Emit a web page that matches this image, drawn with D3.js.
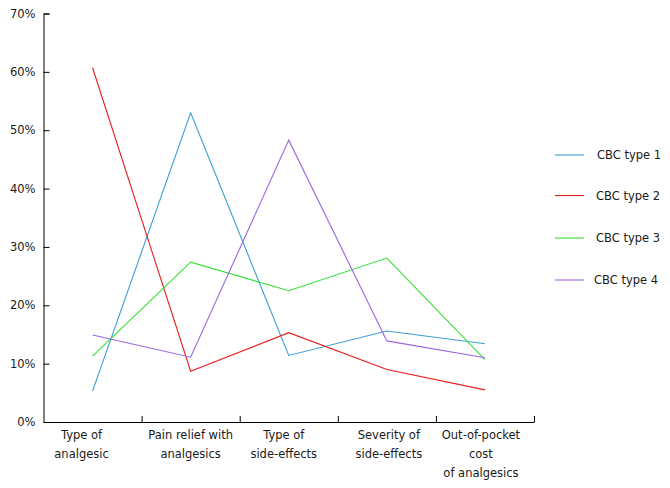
<!DOCTYPE html>
<html>
<head>
<meta charset="utf-8">
<script src="https://cdn.jsdelivr.net/npm/d3@7"></script>
<style>
  html, body { margin: 0; padding: 0; background: #fff; }
  svg { display: block; }
  text { font-family: "DejaVu Sans", Verdana, sans-serif; fill: #1a1a1a; }
</style>
</head>
<body>
<svg id="chart" width="670" height="488"></svg>
<script>
const categories = [
  ["Type of", "analgesic"],
  ["Pain relief with", "analgesics"],
  ["Type of", "side-effects"],
  ["Severity of", "side-effects"],
  ["Out-of-pocket", "cost", "of analgesics"]
];
const seriesNames = ["CBC type 1", "CBC type 2", "CBC type 3", "CBC type 4"];
const type1 = [5.3, 53.0, 11.4, 15.6, 13.4];
const type2 = [60.7, 8.7, 15.3, 9.0, 5.5];
const type3 = [11.3, 27.4, 22.5, 28.1, 10.7];
const type4 = [14.9, 11.1, 48.3, 13.9, 11.0];
const yTicks = [0, 10, 20, 30, 40, 50, 60, 70];

(function () {
const colors = ["#3b9fd6", "#ea1c1c", "#36e036", "#9b66e0"];
const seriesValues = [type1, type2, type3, type4];
const labelDx = [-11, 0, -5, 2, -4];

const svg = d3.select("#chart");
const mLeft = 43.5, mRight = 534, mTop = 13.5, mBottom = 422;

const x = d3.scaleLinear().domain([0, categories.length]).range([mLeft, mRight]);
const y = d3.scaleLinear().domain([0, 70]).range([mBottom, mTop]);

// Y axis
const yAxis = svg.append("g")
  .attr("transform", `translate(${mLeft},0)`)
  .call(d3.axisLeft(y).tickValues(yTicks).tickFormat(d => d + "%").tickSize(-6).tickPadding(8));
yAxis.selectAll("text").style("font-size", "11.5px").style("font-family", "DejaVu Sans").attr("fill", "#1a1a1a");
yAxis.selectAll("line, path").attr("stroke", "#000");

// X axis
const xAxis = svg.append("g")
  .attr("transform", `translate(0,${mBottom})`)
  .call(d3.axisBottom(x).tickValues(d3.range(1, categories.length + 1)).tickFormat("").tickSize(-6).tickSizeOuter(0));
xAxis.selectAll("line, path").attr("stroke", "#000");

// Category labels
const labels = svg.append("g");
categories.forEach((lines, i) => {
  const t = labels.append("text")
    .attr("x", x(i + 0.5) + labelDx[i])
    .attr("y", 439)
    .attr("text-anchor", "middle")
    .style("font-size", "11.5px");
  lines.forEach((ln, j) => {
    t.append("tspan").attr("x", x(i + 0.5) + labelDx[i]).attr("dy", j === 0 ? 0 : 19).text(ln);
  });
});

// Lines
const line = d3.line().x((d, i) => x(i + 0.5)).y(d => y(d));
seriesValues.forEach((vals, k) => {
  svg.append("path")
    .datum(vals)
    .attr("fill", "none")
    .attr("stroke", colors[k])
    .attr("stroke-width", 1.1)
    .attr("d", line);
});

// Legend
const legendY = [155, 195.5, 238, 280];
const legendTextX = [597, 596, 596, 594];
const lg = svg.append("g");
seriesNames.forEach((name, k) => {
  lg.append("line")
    .attr("x1", 555).attr("x2", 584)
    .attr("y1", legendY[k]).attr("y2", legendY[k])
    .attr("stroke", colors[k]).attr("stroke-width", 1.1);
  lg.append("text")
    .attr("x", legendTextX[k]).attr("y", legendY[k] + 4)
    .style("font-size", "11.5px")
    .text(name);
});
})();
</script>
</body>
</html>
